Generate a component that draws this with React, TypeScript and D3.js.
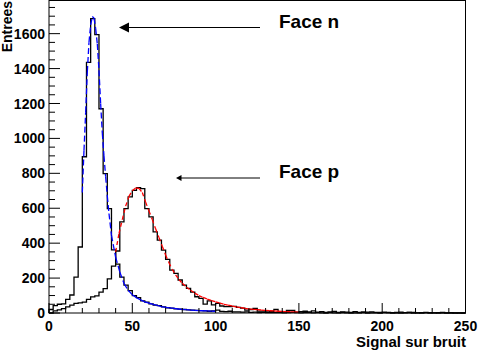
import React from 'react';
import * as d3 from 'd3';

// histogram bins: 100 bins of width 2.5 from 0 to 250
const binWidth = 2.5;

const countsN = [
  20, 42, 50, 52, 78, 103, 205, 378, 895, 1436,
  1686, 1594, 1170, 798, 598, 362, 280, 205, 160, 128,
  100, 88, 70, 62, 52, 45, 42, 35, 30, 28,
  24, 22, 20, 18, 17, 15, 14, 12, 10, 12,
  17, 9, 8, 10, 6, 7, 5, 6, 4, 5,
  3, 4, 2, 3, 2, 3, 1, 2, 4, 2,
  1, 3, 2, 1, 2, 1, 0, 2, 1, 1,
  3, 1, 0, 1, 1, 2, 0, 1, 1, 0,
  2, 1, 0, 1, 0, 1, 3, 0, 1, 0,
  2, 0, 1, 0, 1, 0, 0, 1, 0, 0,
];

const countsP = [
  0, 12, 18, 25, 35, 45, 55, 58, 62, 78,
  92, 98, 120, 140, 195, 268, 355, 522, 598, 665,
  702, 718, 712, 598, 550, 465, 417, 360, 307, 246,
  227, 189, 160, 141, 120, 93, 84, 51, 70, 46,
  55, 40, 36, 36, 38, 32, 28, 17, 20, 27,
  11, 11, 6, 10, 21, 8, 6, 15, 15, 5,
  8, 10, 6, 12, 5, 8, 4, 7, 9, 3,
  6, 5, 4, 8, 3, 6, 5, 7, 4, 3,
  5, 4, 2, 3, 5, 2, 3, 4, 1, 2,
  3, 2, 1, 2, 3, 1, 2, 0, 1, 0,
];

// fitted curves (face n in blue, face p in red)
const fitNX = [20, 21, 22, 23, 24, 25, 26, 27, 28, 29, 30, 31, 32, 33, 34, 35, 36, 37.5, 40, 42.5, 45, 47.5,
  50, 52.5, 55, 57.5, 60, 62.5, 65, 67.5, 70, 72.5, 75, 77.5, 80, 82.5, 85, 87.5, 90, 92.5, 95, 97.5, 100];
const fitNY = [690, 930, 1150, 1380, 1550, 1650, 1698, 1690, 1630, 1541, 1390, 1200, 1030, 900, 780, 670, 570, 445, 320, 235, 170, 130,
  105, 88, 75, 64, 56, 49, 43, 37, 32, 29, 26, 23, 21, 19, 17, 15, 14, 13, 12, 11, 10];

const fitPX = [40, 42, 44, 46, 48, 50, 52, 54, 56, 58, 60, 62, 64, 66, 68, 70, 72, 74, 76, 78, 80, 82.5, 85, 87.5,
  90, 92.5, 95, 97.5, 100, 102.5, 105, 107.5, 110, 112.5, 115, 117.5, 120, 122.5, 125, 127.5, 130, 132.5, 135,
  137.5, 140, 142.5, 145, 147.5, 150];
const fitPY = [350, 455, 535, 612, 668, 700, 716, 714, 690, 635, 585, 535, 482, 432, 382, 332, 288, 250, 218, 192, 170, 148, 130, 114,
  100, 89, 80, 71, 64, 57, 50, 45, 40, 35, 31, 27, 24, 21, 19, 17, 15, 13, 12,
  10, 9, 8, 7, 6, 5];

const xTicks = [0, 50, 100, 150, 200, 250];
const yTicks = [0, 200, 400, 600, 800, 1000, 1200, 1400, 1600];

const font = '"Liberation Sans", Arial, Helvetica, sans-serif';

export default function App() {
  const x = d3.scaleLinear().domain([0, 250]).range([49, 465.5]);
  const y = d3.scaleLinear().domain([0, 1787]).range([313, 1]);

  const histPath = (counts: number[]) => {
    const pts: [number, number][] = [[0, 0], ...counts.map((c, i) => [i * binWidth, c] as [number, number]), [counts.length * binWidth, 0]];
    return d3.line<[number, number]>()
      .x(d => x(d[0]))
      .y(d => y(d[1]))
      .curve(d3.curveStepAfter)(pts) as string;
  };

  // ROOT draws dashed polylines segment by segment, so the dash restarts each segment
  const fitSegments = (xs: number[], ys: number[], color: string, dash: string) =>
    xs.slice(1).map((_, i) => (
      <line key={i}
        x1={x(xs[i])} y1={y(ys[i])} x2={x(xs[i + 1])} y2={y(ys[i + 1])}
        stroke={color} strokeWidth={1.3} strokeDasharray={dash} />
    ));

  const yMinor = d3.range(0, 1751, 50);
  const xMinor = d3.range(0, 251, 10);

  return (
    <svg width={478} height={352} style={{position: 'absolute', left: 0, top: 0, background: '#fff'}}
      fontFamily={font} fontWeight="bold">
      <rect x={0} y={0} width={478} height={352} fill="#fff" />

      <path d={histPath(countsN)} fill="none" stroke="#000" strokeWidth={1.3} />
      <path d={histPath(countsP)} fill="none" stroke="#000" strokeWidth={1.3} />

      {fitSegments(fitNX, fitNY, '#0000ff', '6,3')}
      {fitSegments(fitPX, fitPY, '#ff0000', '4,3')}

      {/* frame */}
      <rect x={49} y={0.5} width={465.5 - 49} height={313 - 0.5} fill="none" stroke="#000" strokeWidth={1} />

      {/* y ticks */}
      {yMinor.map(v => (
        <line key={'ym' + v} x1={49} x2={v % 200 === 0 ? 60 : 55} y1={y(v)} y2={y(v)} stroke="#000" strokeWidth={1} />
      ))}
      {yTicks.map(v => (
        <text key={'yt' + v} x={45} y={y(v)} dy="0.36em" textAnchor="end" fontSize={14}>{v}</text>
      ))}

      {/* x ticks */}
      {xMinor.map(v => (
        <line key={'xm' + v} x1={x(v)} x2={x(v)} y1={313} y2={v % 50 === 0 ? 303 : 308} stroke="#000" strokeWidth={1} />
      ))}
      {xTicks.map(v => (
        <text key={'xt' + v} x={x(v)} y={331} textAnchor="middle" fontSize={14}>{v}</text>
      ))}

      <text x={466} y={347} textAnchor="end" fontSize={15}>Signal sur bruit</text>
      <text transform="translate(12,1) rotate(-90)" textAnchor="end" fontSize={14}>Entrees</text>

      {/* annotations */}
      <line x1={127} x2={260} y1={27.5} y2={27.5} stroke="#000" strokeWidth={1} />
      <path d="M119,27.5 L129,22.5 L129,32.5 Z" fill="#000" />
      <text x={279} y={28} fontSize={19}>Face n</text>

      <line x1={180} x2={260} y1={178} y2={178} stroke="#000" strokeWidth={1} />
      <path d="M176,178 L181.5,175 L181.5,181 Z" fill="#000" />
      <text x={279} y={178} fontSize={19}>Face p</text>
    </svg>
  );
}
